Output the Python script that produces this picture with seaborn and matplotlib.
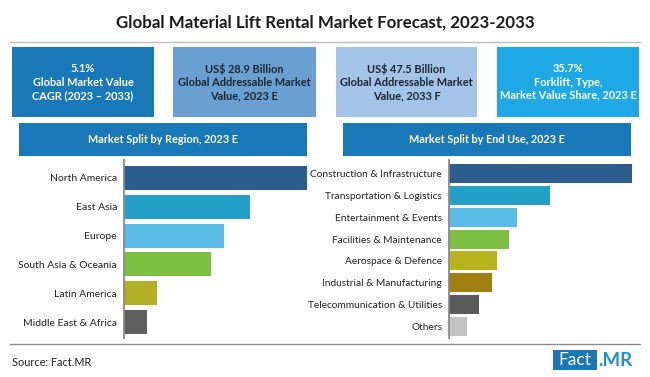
import matplotlib
matplotlib.use("Agg")
import matplotlib.pyplot as plt
from matplotlib.patches import Rectangle
from matplotlib.lines import Line2D
import seaborn as sns
import pandas as pd

sns.set_theme(style="white")
plt.rcParams['font.family'] = ['Lato', 'DejaVu Sans']

# ---------------- data ----------------
title = "Global Material Lift Rental Market Forecast, 2023-2033"

kpi_texts = [
    "5.1%\nGlobal Market Value\nCAGR (2023 \u2013 2033)",
    "US$ 28.9 Billion\nGlobal Addressable Market\nValue, 2023 E",
    "US$ 47.5 Billion\nGlobal Addressable Market\nValue, 2033 F",
    "35.7%\nForklift, Type,\nMarket Value Share, 2023 E",
]
kpi_colors = ["#1878b8", "#6a9fd2", "#a3c4e6", "#1ea8e6"]
kpi_text_colors = ["white", "#1b2633", "#1b2633", "white"]

region_title = "Market Split by Region, 2023 E"
regions = ["North America", "East Asia", "Europe", "South Asia & Oceania",
           "Latin America", "Middle East & Africa"]
region_share = [33.2, 22.8, 18.1, 15.8, 6.0, 4.2]
region_colors = ["#2c5d8c", "#22a0c8", "#5cbce8", "#7cc142", "#b2b024", "#5e5e5e"]

enduse_title = "Market Split by End Use, 2023 E"
end_uses = ["Construction & Infrastructure", "Transportation & Logistics",
            "Entertainment & Events", "Facilities & Maintenance",
            "Aerospace & Defence", "Industrial & Manufacturing",
            "Telecommunication & Utilities", "Others"]
enduse_share = [33.2, 18.3, 12.3, 10.9, 8.7, 7.8, 5.4, 3.3]
enduse_colors = ["#2c5d8c", "#22a0c8", "#5cbce8", "#7cc142", "#b8b31c",
                 "#a07e10", "#5a5a5a", "#c2c2c2"]

source = "Source: Fact.MR"

# ---------------- figure ----------------
W, H = 650, 377
fig = plt.figure(figsize=(W / 100, H / 100), dpi=100)
fig.patch.set_facecolor("white")


def fx(x):
    return x / W


def fy(y):
    return 1 - y / H


def rect(x0, y0, x1, y1, color):
    fig.patches.append(Rectangle((fx(x0), fy(y1)), fx(x1) - fx(x0), fy(y0) - fy(y1),
                                 transform=fig.transFigure, facecolor=color,
                                 edgecolor="none", zorder=0))


def hline(x0, x1, y, color, lw):
    fig.lines.append(Line2D([fx(x0), fx(x1)], [fy(y), fy(y)], transform=fig.transFigure,
                            color=color, lw=lw))


# title
fig.text(fx(325), fy(23), title, ha="center", va="center", fontsize=12.2,
         fontweight="bold", color="#1a1a1a")
hline(10, 640, 42, "#bdbdbd", 1.0)

# KPI boxes
box_x = [(12, 154), (173, 316), (336, 477), (497, 639)]
for (x0, x1), txt, c, tc in zip(box_x, kpi_texts, kpi_colors, kpi_text_colors):
    rect(x0, 47, x1, 117, c)
    fig.text(fx((x0 + x1) / 2), fy(82), txt, ha="center", va="center",
             fontsize=7.9, fontweight="bold", color=tc, linespacing=1.25)

# section headers
rect(19, 123, 307, 156, "#1878b8")
fig.text(fx(163), fy(139.5), region_title, ha="center", va="center",
         fontsize=7.8, fontweight="bold", color="white")
rect(343, 123, 631, 156, "#1878b8")
fig.text(fx(487), fy(139.5), enduse_title, ha="center", va="center",
         fontsize=7.8, fontweight="bold", color="white")


def bar_panel(x0, x1, y0, y1, cats, vals, colors, first_c, last_c, width, fs):
    ax = fig.add_axes([fx(x0), fy(y1), fx(x1) - fx(x0), fy(y0) - fy(y1)])
    df = pd.DataFrame({"cat": cats, "val": vals})
    sns.barplot(data=df, y="cat", x="val", hue="cat", palette=colors,
                orient="h", width=width, legend=False, ax=ax, saturation=1,
                linewidth=0)
    n = len(cats)
    pitch = (last_c - first_c) / (n - 1)
    ax.set_ylim(n - 1 + (y1 - last_c) / pitch, -(first_c - y0) / pitch)
    ax.set_xlim(0, max(vals))
    ax.set_xlabel("")
    ax.set_ylabel("")
    ax.set_xticks([])
    ax.tick_params(axis="y", length=0, pad=5, labelsize=fs, labelcolor="#222222")
    for s in ["top", "right", "bottom"]:
        ax.spines[s].set_visible(False)
    ax.spines["left"].set_color("#8a8a8a")
    ax.spines["left"].set_linewidth(1.3)
    ax.patch.set_alpha(0)
    return ax


bar_panel(124, 307, 160, 338, regions, region_share, region_colors,
          178, 322, 0.84, 7.5)
bar_panel(449, 632, 160, 338, end_uses, enduse_share, enduse_colors,
          173.5, 326.5, 0.87, 7.3)

hline(10, 640, 344, "#8a8a8a", 1.0)

# footer
fig.text(fx(12), fy(362), source, ha="left", va="center", fontsize=7.8,
         color="#222222")
rect(553, 350, 597, 370, "#1878b8")
fig.text(fx(575), fy(360), "Fact", ha="center", va="center", fontsize=12.5,
         color="white")
fig.text(fx(598), fy(360), ".MR", ha="left", va="center", fontsize=13.5,
         fontweight="bold", color="#1e90d0")

fig.savefig("out.png", dpi=100, facecolor="white")
